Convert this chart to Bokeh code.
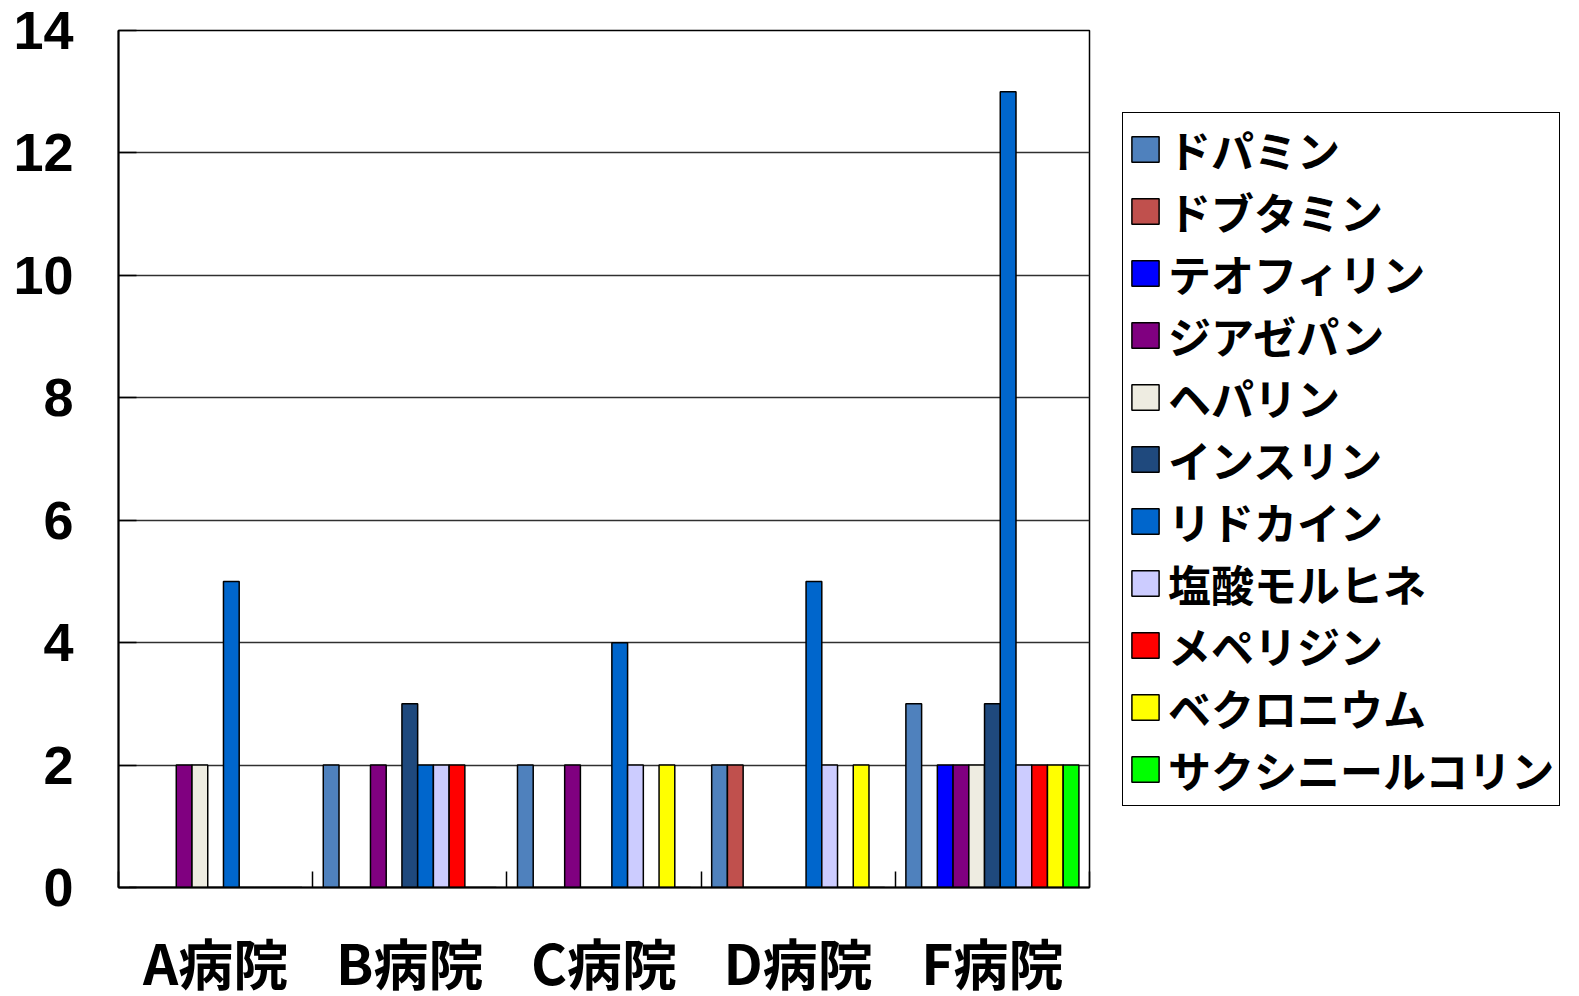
from bokeh.plotting import figure
from bokeh.models import FixedTicker, Legend, LegendItem, Range1d
from bokeh.embed import file_html
from bokeh.resources import INLINE

hospitals = ["A病院", "B病院", "C病院", "D病院", "F病院"]
drugs = ["ドパミン", "ドブタミン", "テオフィリン", "ジアゼパン", "ヘパリン", "インスリン",
         "リドカイン", "塩酸モルヒネ", "メペリジン", "ベクロニウム", "サクシニールコリン"]
colors = ["#4F81BD", "#C0504D", "#0000FF", "#800080", "#EEECE1", "#1F497D",
          "#0066CC", "#CCCCFF", "#FF0000", "#FFFF00", "#00FF00"]

dopamine      = [0, 2, 2, 2, 3]
dobutamine    = [0, 0, 0, 2, 0]
theophylline  = [0, 0, 0, 0, 2]
diazepam      = [2, 2, 2, 0, 2]
heparin       = [2, 0, 0, 0, 2]
insulin       = [0, 3, 0, 0, 3]
lidocaine     = [5, 2, 4, 5, 13]
morphine      = [0, 2, 2, 2, 2]
meperidine    = [0, 2, 0, 0, 2]
vecuronium    = [0, 0, 2, 2, 2]
succinylcholine = [0, 0, 0, 0, 2]

series = [dopamine, dobutamine, theophylline, diazepam, heparin, insulin,
          lidocaine, morphine, meperidine, vecuronium, succinylcholine]

n_groups = len(hospitals)
n_series = len(drugs)
bar_w = 0.081

p = figure(frame_width=971, frame_height=857, output_backend="svg", toolbar_location=None,
           x_range=Range1d(0, n_groups), y_range=Range1d(0, 14),
           min_border_left=118, min_border_top=30, min_border_bottom=112,
           min_border_right=474)

items = []
for j, (name, vals, col) in enumerate(zip(drugs, series, colors)):
    xs = [i + 0.5 + (j - (n_series - 1) / 2) * bar_w for i in range(n_groups)]
    r = p.vbar(x=xs, top=vals, width=bar_w, fill_color=col, line_color="black",
               line_width=1.5)
    items.append(LegendItem(label=name, renderers=[r]))

# axes
p.xaxis.ticker = FixedTicker(ticks=[i + 0.5 for i in range(n_groups)],
                             minor_ticks=list(range(n_groups + 1)))
p.xaxis.major_label_overrides = {i + 0.5: h for i, h in enumerate(hospitals)}
p.xaxis.major_tick_line_color = None
p.xaxis.minor_tick_in = 16
p.xaxis.minor_tick_out = 0
p.xaxis.minor_tick_line_color = "black"
p.xaxis.minor_tick_line_width = 1.5
p.xaxis.axis_line_color = "black"
p.xaxis.axis_line_width = 2
p.xaxis.major_label_text_font = "Noto Sans CJK JP"
p.xaxis.major_label_text_font_style = "bold"
p.xaxis.major_label_text_font_size = "55px"
p.xaxis.major_label_text_color = "black"
p.xaxis.major_label_standoff = 27

p.yaxis.ticker = FixedTicker(ticks=list(range(0, 15, 2)))
p.yaxis.minor_tick_line_color = None
p.yaxis.major_tick_in = 18
p.yaxis.major_tick_out = 0
p.yaxis.major_tick_line_color = "black"
p.yaxis.major_tick_line_width = 1.5
p.yaxis.axis_line_color = "black"
p.yaxis.axis_line_width = 2
p.yaxis.major_label_text_font = "Liberation Sans"
p.yaxis.major_label_text_font_style = "bold"
p.yaxis.major_label_text_font_size = "54px"
p.yaxis.major_label_text_color = "black"
p.yaxis.major_label_standoff = 45

p.xgrid.grid_line_color = None
p.ygrid.grid_line_color = "#303030"
p.ygrid.grid_line_width = 1.5

p.outline_line_color = "black"
p.outline_line_width = 1.5
p.background_fill_color = "white"

legend = Legend(items=items, location=(33, 81))
legend.label_text_font = "Noto Sans CJK JP"
legend.label_text_font_style = "bold"
legend.label_text_font_size = "43px"
legend.label_text_color = "black"
legend.glyph_width = 34
legend.glyph_height = 32
legend.label_height = 50
legend.spacing = 0
legend.padding = 5
legend.margin = 0
legend.label_standoff = 6
legend.border_line_color = "black"
legend.border_line_alpha = 1
legend.border_line_width = 1.5
legend.background_fill_alpha = 1
p.add_layout(legend, "right")

open("out.html", "w").write(file_html(p, INLINE))
